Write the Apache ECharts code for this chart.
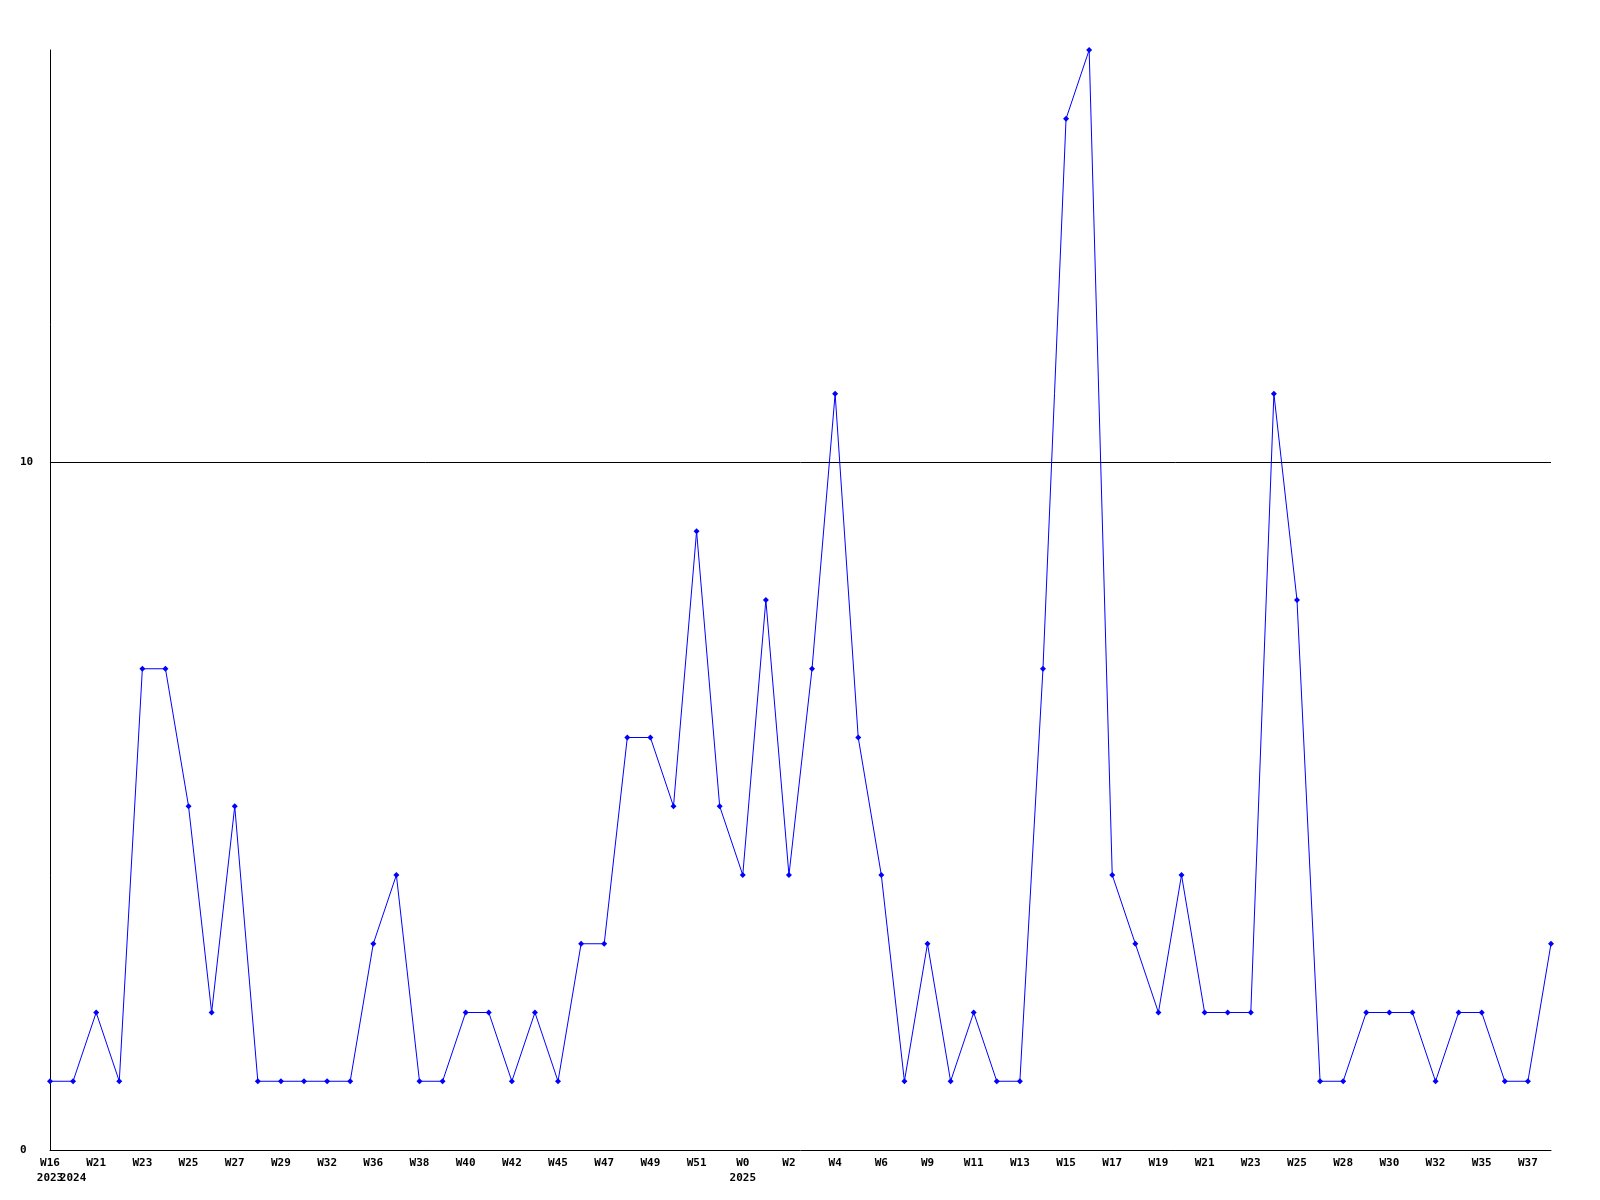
<!DOCTYPE html>
<html>
<head>
<meta charset="utf-8">
<script src="https://cdn.jsdelivr.net/npm/echarts@6/dist/echarts.min.js"></script>
<style>html,body{margin:0;padding:0;background:#fff}#c{width:1600px;height:1200px}</style>
</head>
<body>
<div id="c"></div>
<script>
const weeks = ["W16","W20","W21","W22","W23","W24","W25","W26","W27","W28","W29","W30","W32","W34","W36","W37","W38","W39","W40","W41","W42","W43","W45","W46","W47","W48","W49","W50","W51","W52","W0","W1","W2","W3","W4","W5","W6","W8","W9","W10","W11","W12","W13","W14","W15","W16","W17","W18","W19","W20","W21","W22","W23","W24","W25","W27","W28","W29","W30","W31","W32","W34","W35","W36","W37","W38"];
const years = ["2023","2024","","","","","","","","","","","","","","","","","","","","","","","","","","","","","2025","","","","","","","","","","","","","","","","","","","","","","","","","","","","","","","","","","",""];
const counts = [1,1,2,1,7,7,5,2,5,1,1,1,1,1,3,4,1,1,2,2,1,2,1,3,3,6,6,5,9,5,4,8,4,7,11,6,4,1,3,1,2,1,1,7,15,16,4,3,2,4,2,2,2,11,8,1,1,2,2,2,1,2,2,1,1,3];
const yTicks = [0, 10];

const font = {fontFamily: 'DejaVu Sans Mono', fontWeight: 'bold', fontSize: 11, color: '#000'};
const chart = echarts.init(document.getElementById('c'), null, {renderer: 'canvas'});
chart.setOption({
  animation: false,
  backgroundColor: '#fff',
  grid: {left: 50, right: 49, top: 50, bottom: 50, containLabel: false},
  xAxis: [{
    type: 'category', data: weeks, boundaryGap: false, position: 'bottom',
    axisLine: {show: true, lineStyle: {color: '#000', width: 1}},
    axisTick: {show: false},
    axisLabel: Object.assign({interval: 1, margin: 8}, font),
    splitLine: {show: false}
  }, {
    type: 'category', data: years, boundaryGap: false, position: 'bottom',
    axisLine: {show: false}, axisTick: {show: false},
    axisLabel: Object.assign({interval: 0, margin: 23}, font),
    splitLine: {show: false}
  }],
  yAxis: {
    type: 'value', min: yTicks[0], max: 16, interval: yTicks[1] - yTicks[0],
    axisLine: {show: true, lineStyle: {color: '#000', width: 1}},
    axisTick: {show: false},
    axisLabel: Object.assign({align: 'left', margin: 30, showMaxLabel: false}, font),
    splitLine: {show: true, showMinLine: false, showMaxLine: false, lineStyle: {color: '#000', width: 1}}
  },
  series: [{
    type: 'line', xAxisIndex: 0, data: counts,
    symbol: 'diamond', symbolSize: 6, showSymbol: true,
    lineStyle: {color: '#0000ff', width: 1},
    itemStyle: {color: '#0000ff'}
  }]
});
</script>
</body>
</html>
